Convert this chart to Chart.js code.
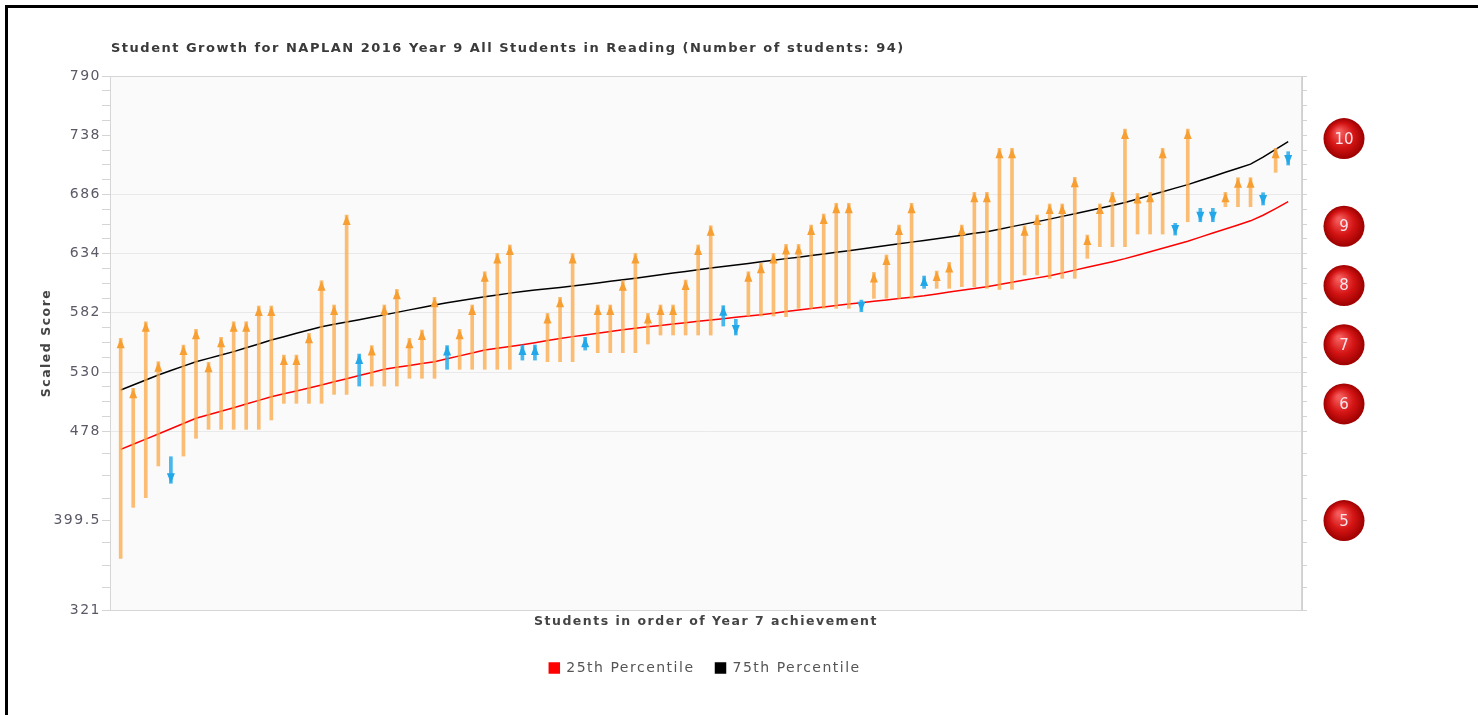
<!DOCTYPE html>
<html>
<head>
<meta charset="utf-8">
<title>Student Growth</title>
<script src="https://cdn.jsdelivr.net/npm/chart.js@4.4.1/dist/chart.umd.min.js"></script>
<style>
  body { margin: 0; background: #fff; }
  #wrap { position: relative; width: 1478px; height: 715px; overflow: hidden; }
  #frameTop { position: absolute; left: 5px; top: 5px; width: 1473px; height: 3px; background: #000; }
  #frameLeft { position: absolute; left: 5px; top: 5px; width: 3px; height: 710px; background: #000; }
  #title { position: absolute; left: 111px; top: 40px; font: bold 13px "DejaVu Sans", Verdana, sans-serif; letter-spacing: 1.5px; color: #3a3a3a; white-space: nowrap; }
  canvas { position: absolute; left: 0; top: 0; }
</style>
</head>
<body>
<div id="wrap">
  <canvas id="growthChart" width="1478" height="715"></canvas>
  <div id="frameTop"></div>
  <div id="frameLeft"></div>
  <div id="title">Student Growth for NAPLAN 2016 Year 9 All Students in Reading (Number of students: 94)</div>
</div>
<script>
// Year 7 score (arrow start) and Year 9 score (arrow end), students in order of Year 7 achievement
const year7 = [
  366.4, 411.2, 419.6, 447.5, 455.6, 456.2, 471.8, 479.7, 479.7, 479.7,
  479.7, 479.7, 487.9, 502.5, 502.5, 502.5, 502.5, 510.4, 510.4, 517.7,
  517.7, 517.7, 517.7, 524.5, 524.5, 524.5, 532.4, 532.4, 532.4, 532.4,
  532.4, 532.4, 540.5, 540.5, 539.1, 539.1, 539.1, 549.3, 547.0, 547.0,
  547.0, 547.0, 554.6, 562.5, 562.5, 562.5, 562.5, 562.5, 570.4, 576.3,
  579.2, 579.2, 579.2, 578.6, 585.9, 585.9, 585.9, 585.9, 585.9, 593.2,
  594.7, 594.7, 594.7, 594.7, 603.5, 603.5, 603.5, 605.0, 605.0, 603.5,
  602.6, 602.6, 615.2, 615.2, 612.3, 612.3, 612.3, 629.9, 640.1, 640.1,
  640.1, 651.2, 651.2, 651.2, 660.6, 662.0, 673.8, 673.8, 675.2, 675.2,
  675.2, 687.5, 705.4, 723.5
];
const year9 = [
  559.6, 515.7, 574.2, 539.1, 432.3, 553.7, 567.5, 538.5, 560.5, 574.2,
  574.2, 588.0, 588.0, 544.9, 544.9, 564.0, 610.2, 588.9, 667.9, 545.8,
  553.2, 588.9, 602.6, 559.6, 566.9, 595.6, 553.2, 567.5, 588.9, 618.1,
  634.2, 641.6, 553.7, 553.7, 581.5, 595.6, 634.2, 560.5, 588.9, 588.9,
  610.2, 634.2, 581.5, 588.9, 588.9, 610.8, 641.6, 658.5, 588.3, 562.5,
  618.1, 625.5, 634.2, 642.1, 642.1, 659.1, 668.8, 678.2, 678.2, 583.0,
  617.5, 632.8, 659.1, 678.2, 614.3, 618.7, 626.3, 659.1, 687.8, 687.8,
  726.5, 726.5, 658.5, 667.9, 677.6, 677.6, 701.0, 650.3, 677.6, 687.8,
  743.4, 686.9, 687.8, 726.5, 650.3, 743.4, 662.0, 662.0, 687.8, 700.7,
  700.7, 676.7, 726.5, 711.8
];
// students drawn in blue (growth below expected)
const lowGrowth = [5, 20, 27, 33, 34, 38, 49, 50, 60, 65, 85, 87, 88, 92, 94];
const pct25 = [
  462.1, 466.6, 471.1, 475.6, 480.2, 484.8, 489.4, 492.5, 495.6, 498.7,
  501.9, 505.1, 508.3, 510.9, 513.4, 516.0, 518.6, 521.4, 524.1, 526.9,
  529.6, 532.4, 534.1, 535.8, 537.4, 539.1, 541.7, 544.2, 546.8, 549.4,
  550.9, 552.4, 554.0, 555.8, 557.6, 559.4, 561.1, 562.6, 564.1, 565.6,
  567.1, 568.5, 569.7, 570.9, 572.1, 573.3, 574.6, 575.7, 576.9, 578.1,
  579.2, 580.4, 581.7, 583.1, 584.4, 585.8, 587.2, 588.5, 589.7, 590.9,
  592.1, 593.3, 594.5, 595.7, 597.0, 598.6, 600.2, 601.8, 603.4, 605.0,
  606.9, 608.8, 610.8, 612.7, 614.6, 617.0, 619.5, 622.0, 624.4, 626.9,
  629.6, 632.6, 635.7, 638.7, 641.8, 644.9, 648.5, 652.1, 655.6, 659.2,
  662.8, 667.7, 673.5, 679.6
];
const pct75 = [
  514.2, 518.6, 523.0, 527.4, 531.3, 535.2, 539.1, 542.0, 545.0, 547.9,
  551.3, 554.7, 558.1, 561.0, 564.0, 566.9, 569.8, 571.9, 574.0, 576.0,
  578.1, 580.2, 582.4, 584.6, 586.7, 588.9, 590.8, 592.6, 594.4, 596.2,
  597.7, 599.3, 600.8, 602.0, 603.1, 604.3, 605.6, 606.9, 608.3, 609.7,
  611.1, 612.4, 613.9, 615.4, 616.9, 618.4, 619.9, 621.3, 622.7, 624.1,
  625.4, 626.8, 628.2, 629.6, 630.9, 632.3, 633.7, 635.1, 636.6, 638.1,
  639.6, 641.1, 642.6, 644.1, 645.6, 647.1, 648.7, 650.2, 651.8, 653.3,
  655.5, 657.7, 659.9, 662.1, 664.3, 666.7, 669.0, 671.4, 673.8, 676.2,
  678.9, 682.0, 685.2, 688.3, 691.5, 694.6, 698.2, 701.8, 705.4, 709.0,
  712.6, 718.7, 725.5, 732.3
];

// y axis ticks and band markers
const majorTicks = [321, 399.5, 478, 530, 582, 634, 686, 738, 790];
const gridValues = [478, 530, 582, 634, 686];
const bandLabels = ['5', '6', '7', '8', '9', '10'];
const bandValues = [399.5, 502, 554, 606, 658, 735];

const ORANGE = '#f79f33';
const ORANGE_SHAFT = 'rgba(249, 168, 70, 0.75)';
const BLUE = '#22a8e8';
const BLUE_SHAFT = 'rgba(40, 170, 232, 0.85)';

const students = year7.map((v, i) => i + 1);
const isUp = year7.map((v, i) => year9[i] >= v);
const isLow = students.map(s => lowGrowth.includes(s));

// minor ticks: 4 steps between each pair of labelled ticks
const allTicks = [];
for (let i = 0; i < majorTicks.length - 1; i++) {
  const a = majorTicks[i], b = majorTicks[i + 1];
  for (let k = 0; k < 4; k++) allTicks.push(a + (b - a) * k / 4);
}
allTicks.push(majorTicks[majorTicks.length - 1]);

function setTicks(scale) {
  scale.ticks = allTicks.map(v => ({ value: v }));
}

// wider text spacing, closer to the original's font
const spacing = {
  id: 'spacing',
  beforeUpdate(chart) { chart.ctx.letterSpacing = '1.5px'; },
  beforeDraw(chart) { chart.ctx.letterSpacing = '1.5px'; }
};

// plot background and frame
const plotArea = {
  id: 'plotArea',
  beforeDraw(chart) {
    const { ctx, chartArea: a } = chart;
    ctx.save();
    ctx.fillStyle = '#fafafa';
    ctx.fillRect(a.left, a.top, a.right - a.left, a.bottom - a.top);
    ctx.restore();
  },
  beforeDatasetsDraw(chart) {
    const { ctx, chartArea: a } = chart;
    ctx.save();
    ctx.strokeStyle = '#d6d6d6';
    ctx.lineWidth = 1;
    ctx.strokeRect(a.left + 0.5, a.top + 0.5, a.right - a.left - 1, a.bottom - a.top);
    ctx.restore();
  }
};

// arrow heads at the Year 9 end of every bar
const arrowHeads = {
  id: 'arrowHeads',
  afterDatasetsDraw(chart) {
    const { ctx } = chart;
    const xs = chart.scales.x, ys = chart.scales.y;
    ctx.save();
    students.forEach((s, i) => {
      const x = xs.getPixelForValue(s);
      const tip = ys.getPixelForValue(year9[i]);
      const dir = isUp[i] ? 1 : -1;
      ctx.fillStyle = isLow[i] ? BLUE : ORANGE;
      ctx.beginPath();
      ctx.moveTo(x, tip);
      ctx.lineTo(x - 4, tip + dir * 10);
      ctx.lineTo(x + 4, tip + dir * 10);
      ctx.closePath();
      ctx.fill();
    });
    ctx.restore();
  }
};

// band badges on the right of the plot
const bandBadges = {
  id: 'bandBadges',
  afterDraw(chart) {
    const { ctx, chartArea } = chart;
    const ys = chart.scales.y;
    const cx = chartArea.right + 42;
    ctx.save();
    ctx.letterSpacing = '0px';
    bandValues.forEach((v, i) => {
      const cy = ys.getPixelForValue(v);
      const g = ctx.createRadialGradient(cx - 5, cy - 7, 2, cx, cy, 20.5);
      g.addColorStop(0, '#f45a5a');
      g.addColorStop(0.55, '#d41414');
      g.addColorStop(1, '#9c0000');
      ctx.fillStyle = g;
      ctx.beginPath();
      ctx.arc(cx, cy, 20.5, 0, Math.PI * 2);
      ctx.fill();
      ctx.fillStyle = '#fde3ea';
      ctx.font = '15px "DejaVu Sans", sans-serif';
      ctx.textAlign = 'center';
      ctx.textBaseline = 'middle';
      ctx.fillText(bandLabels[i], cx, cy + 1);
    });
    ctx.restore();
  }
};

const tickFont = { family: '"DejaVu Sans", Verdana, sans-serif', size: 14 };
const boldFont = { family: '"DejaVu Sans", Verdana, sans-serif', size: 12.5, weight: 'bold' };

new Chart(document.getElementById('growthChart'), {
  type: 'bar',
  data: {
    datasets: [
      {
        label: 'Growth',
        data: students.map((s, i) => ({ x: s, y: [year7[i], year9[i]] })),
        backgroundColor: isLow.map(low => low ? BLUE_SHAFT : ORANGE_SHAFT),
        borderWidth: 0,
        barThickness: 3,
        order: 0
      },
      {
        type: 'line',
        label: '25th Percentile',
        data: students.map((s, i) => ({ x: s, y: pct25[i] })),
        borderColor: '#ff0000',
        backgroundColor: '#ff0000',
        borderWidth: 1.5,
        pointRadius: 0,
        order: 1
      },
      {
        type: 'line',
        label: '75th Percentile',
        data: students.map((s, i) => ({ x: s, y: pct75[i] })),
        borderColor: '#000000',
        backgroundColor: '#000000',
        borderWidth: 1.5,
        pointRadius: 0,
        order: 1
      }
    ]
  },
  options: {
    responsive: false,
    animation: false,
    layout: { padding: { left: 0, top: 76, right: 68, bottom: 30 } },
    plugins: {
      legend: {
        position: 'bottom',
        labels: {
          filter: item => item.text !== 'Growth',
          boxWidth: 10,
          boxHeight: 10,
          padding: 21,
          color: '#555',
          font: { family: '"DejaVu Sans", Verdana, sans-serif', size: 14 }
        }
      },
      tooltip: { enabled: false },
      title: { display: false }
    },
    scales: {
      x: {
        type: 'linear',
        offset: false,
        min: 0.15,
        max: 95.1,
        grid: { display: false },
        ticks: { display: false },
        border: { color: '#cfcfcf' },
        title: {
          display: true,
          text: 'Students in order of Year 7 achievement',
          color: '#444',
          font: boldFont,
          padding: { top: 0, bottom: 11 }
        },
        afterFit(scale) { scale.height = 30; }
      },
      y: {
        min: 321,
        max: 790,
        afterBuildTicks: setTicks,
        grid: {
          color: ctx => (ctx.tick && gridValues.includes(ctx.tick.value)) ? '#e9e9e9' : 'rgba(0,0,0,0)',
          tickColor: '#d4d4d4',
          tickLength: 8
        },
        border: { color: '#cfcfcf' },
        ticks: {
          autoSkip: false,
          padding: 1,
          color: '#5a5a66',
          font: tickFont,
          callback: v => majorTicks.includes(v) ? String(v) : ''
        },
        title: {
          display: true,
          text: 'Scaled Score',
          color: '#444',
          font: boldFont,
          padding: { top: 39, bottom: 0 }
        },
        afterFit(scale) { scale.width = 110; }
      },
      y2: {
        position: 'right',
        min: 321,
        max: 790,
        afterBuildTicks: setTicks,
        grid: { drawOnChartArea: false, tickColor: '#d4d4d4', tickLength: 5 },
        border: { color: '#cfcfcf' },
        ticks: { autoSkip: false, callback: () => '' },
        afterFit(scale) { scale.width = 108; }
      }
    }
  },
  plugins: [spacing, plotArea, arrowHeads, bandBadges]
});
</script>
</body>
</html>
